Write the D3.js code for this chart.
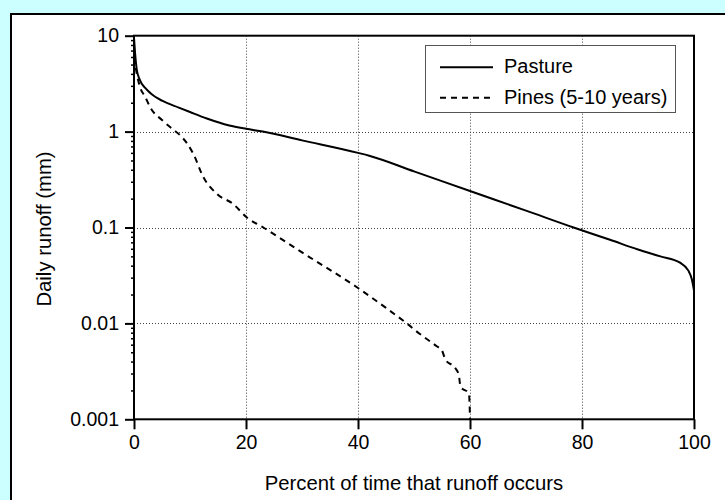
<!DOCTYPE html>
<html>
<head>
<meta charset="utf-8">
<script src="https://cdn.jsdelivr.net/npm/d3@7"></script>
<style>
  body { margin: 0; background: #ccffff; }
  svg { display: block; }
  svg text { font-family: "Liberation Sans", Arial, sans-serif; }
</style>
</head>
<body>
<script>
var width = 725,
    height = 500;

// percent of time (x) and daily runoff in mm (y)
var pastureX = [0, 0.2, 0.5, 1, 2, 3, 5, 8, 10, 13, 17, 20, 23, 30, 40, 42, 50, 60, 70, 78.5, 85, 90, 94, 97.5, 99, 99.6, 100];
var pastureY = [9.5, 6.5, 4.4, 3.5, 2.85, 2.5, 2.1, 1.78, 1.6, 1.37, 1.16, 1.07, 1.0, 0.81, 0.6, 0.56, 0.385, 0.24, 0.15, 0.1, 0.0745, 0.059, 0.05, 0.043, 0.0355, 0.029, 0.022];

var pinesX = [0, 0.5, 1, 2, 3, 5, 7, 8.2, 9.5, 10.6, 12.4, 14.8, 17.7, 20.1, 23.1, 30, 40, 45, 48.7, 51, 54, 55, 55.6, 57.4, 58, 58.3, 59.8, 59.95, 60];
var pinesY = [6, 4.0, 3.0, 2.3, 1.75, 1.32, 1.05, 0.92, 0.75, 0.585, 0.334, 0.224, 0.176, 0.128, 0.1, 0.055, 0.0234, 0.0145, 0.01, 0.0078, 0.0058, 0.0052, 0.0042, 0.0034, 0.0029, 0.0022, 0.00185, 0.0013, 0.001];

var xTicks = [0, 20, 40, 60, 80, 100];
var yTicks = [0.001, 0.01, 0.1, 1, 10];
var yTickLabels = ["0.001", "0.01", "0.1", "1", "10"];
var seriesNames = ["Pasture", "Pines (5-10 years)"];

var plot = {left: 134, right: 694, top: 35.7, bottom: 419.3};
var font = '"Liberation Sans", Arial, sans-serif';

var x = d3.scaleLinear().domain([0, 100]).range([plot.left, plot.right]);
var y = d3.scaleLog().domain([0.001, 10]).range([plot.bottom, plot.top]);

var svg = d3.select("body").append("svg")
    .attr("width", width)
    .attr("height", height);

svg.append("rect")
    .attr("width", width).attr("height", height)
    .attr("fill", "#ccffff");

// white panel, cut off at right and bottom
svg.append("rect")
    .attr("x", 11).attr("y", 14)
    .attr("width", 800).attr("height", 600)
    .attr("fill", "#fff")
    .attr("stroke", "#000")
    .attr("stroke-width", 2);

svg.append("clipPath").attr("id", "clip")
  .append("rect")
    .attr("x", plot.left).attr("y", plot.top)
    .attr("width", plot.right - plot.left).attr("height", plot.bottom - plot.top);

// grid
var grid = svg.append("g")
    .attr("stroke", "#444")
    .attr("stroke-width", 1)
    .attr("stroke-dasharray", "1,2");

grid.selectAll(".gx")
    .data(xTicks.slice(1, -1))
    .enter().append("line")
    .attr("x1", function(d) { return Math.round(x(d)) + 0.5; })
    .attr("x2", function(d) { return Math.round(x(d)) + 0.5; })
    .attr("y1", plot.top)
    .attr("y2", plot.bottom);

grid.selectAll(".gy")
    .data(yTicks.slice(1, -1))
    .enter().append("line")
    .attr("x1", plot.left)
    .attr("x2", plot.right)
    .attr("y1", function(d) { return Math.round(y(d)) + 0.5; })
    .attr("y2", function(d) { return Math.round(y(d)) + 0.5; });

// curves
var line = d3.line()
    .x(function(d) { return x(d[0]); })
    .y(function(d) { return y(d[1]); })
    .curve(d3.curveMonotoneX);

var pasture = d3.zip(pastureX, pastureY);
var pines = d3.zip(pinesX, pinesY);

svg.append("path")
    .datum(pasture)
    .attr("clip-path", "url(#clip)")
    .attr("fill", "none")
    .attr("stroke", "#000")
    .attr("stroke-width", 2)
    .attr("d", line);

svg.append("path")
    .datum(pines)
    .attr("clip-path", "url(#clip)")
    .attr("fill", "none")
    .attr("stroke", "#000")
    .attr("stroke-width", 2)
    .attr("stroke-dasharray", "6,5")
    .attr("d", line);

// axes
var xAxis = d3.axisBottom(x)
    .tickValues(xTicks)
    .tickSize(10)
    .tickPadding(6);

var gx = svg.append("g")
    .attr("transform", "translate(0," + plot.bottom + ")")
    .call(xAxis);

var minors = [];
for (var e = -3; e < 1; e++) {
  for (var m = 2; m < 10; m++) minors.push(m * Math.pow(10, e));
}

var gym = svg.append("g")
    .attr("transform", "translate(" + plot.left + ",0)")
    .call(d3.axisLeft(y).tickValues(minors).tickSize(3).tickFormat(""));
gym.select(".domain").remove();

var yAxis = d3.axisLeft(y)
    .tickValues(yTicks)
    .tickSize(9)
    .tickPadding(6)
    .tickFormat(function(d, i) { return yTickLabels[i]; });

var gy = svg.append("g")
    .attr("transform", "translate(" + plot.left + ",0)")
    .call(yAxis);

[gx, gy, gym].forEach(function(g) {
  g.selectAll("path, line").attr("stroke", "#000").attr("stroke-width", 2);
  g.selectAll(".domain").attr("d", null);
  g.selectAll("text").attr("fill", "#000").attr("font-family", font).style("font-size", "19.5px");
  g.attr("font-size", null);
});
gym.selectAll("line").attr("stroke-width", 1.5);

// frame
svg.append("rect")
    .attr("x", plot.left).attr("y", plot.top)
    .attr("width", plot.right - plot.left).attr("height", plot.bottom - plot.top)
    .attr("fill", "none")
    .attr("stroke", "#000")
    .attr("stroke-width", 2);

// axis titles
svg.append("text")
    .attr("x", (plot.left + plot.right) / 2)
    .attr("y", 490)
    .attr("text-anchor", "middle")
    .attr("font-family", font)
    .style("font-size", "20.3px")
    .text("Percent of time that runoff occurs");

svg.append("text")
    .attr("transform", "translate(51," + 229 + ") rotate(-90)")
    .attr("text-anchor", "middle")
    .attr("font-family", font)
    .style("font-size", "20.3px")
    .text("Daily runoff (mm)");

// legend
var legend = svg.append("g");
legend.append("rect")
    .attr("x", 425.5).attr("y", 45.5)
    .attr("width", 250).attr("height", 67)
    .attr("fill", "#fff")
    .attr("stroke", "#555")
    .attr("stroke-width", 1);

var dashes = [null, "6,5"];
var rowY = [67.3, 97.7];
legend.selectAll(".lgl")
    .data(seriesNames)
    .enter().append("line")
    .attr("x1", 440).attr("x2", 493)
    .attr("y1", function(d, i) { return rowY[i]; })
    .attr("y2", function(d, i) { return rowY[i]; })
    .attr("stroke", "#000")
    .attr("stroke-width", 2)
    .attr("stroke-dasharray", function(d, i) { return dashes[i]; });

legend.selectAll(".lgt")
    .data(seriesNames)
    .enter().append("text")
    .attr("x", 504)
    .attr("y", function(d, i) { return rowY[i] + 6; })
    .attr("font-family", font)
    .style("font-size", "20px")
    .text(function(d) { return d; });
</script>
</body>
</html>
